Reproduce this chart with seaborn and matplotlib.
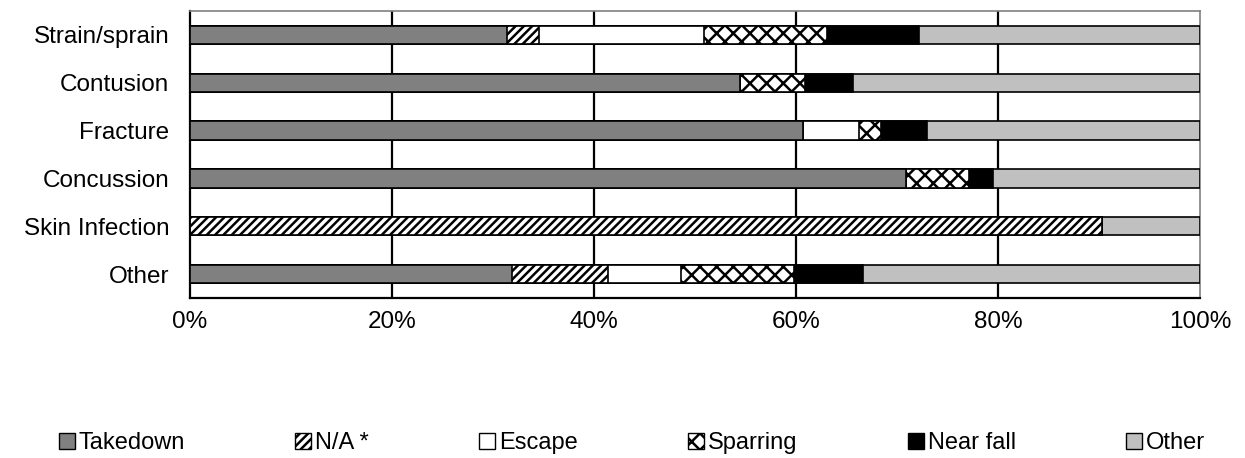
import matplotlib
matplotlib.use("Agg")
import matplotlib.pyplot as plt
from matplotlib.patches import Patch
import numpy as np
import pandas as pd
import seaborn as sns

# injury types, top to bottom
injuries = ["Strain/sprain", "Contusion", "Fracture", "Concussion", "Skin Infection", "Other"]

# share of each injury by activity (percent)
takedown = [31.4, 54.5, 60.7, 70.9, 0.0, 31.9]
na_star = [3.2, 0.0, 0.0, 0.0, 90.3, 9.5]
escape = [16.3, 0.0, 5.5, 0.0, 0.0, 7.2]
sparring = [12.2, 6.4, 2.2, 6.2, 0.0, 11.2]
near_fall = [9.1, 4.7, 4.6, 2.4, 0.0, 6.8]
other = [27.8, 34.4, 27.0, 20.5, 9.7, 33.4]

series = ["Takedown", "N/A *", "Escape", "Sparring", "Near fall", "Other"]
values = [takedown, na_star, escape, sparring, near_fall, other]
colors = ["#808080", "white", "white", "white", "black", "#c0c0c0"]
hatches = [None, "////", None, "xx", None, None]


def main():
    sns.set_style("white")
    plt.rcParams["font.family"] = ["Liberation Sans", "DejaVu Sans"]
    plt.rcParams["text.color"] = "black"
    plt.rcParams["xtick.labelcolor"] = "black"
    plt.rcParams["ytick.labelcolor"] = "black"
    plt.rcParams["hatch.linewidth"] = 1.8
    plt.rcParams["hatch.color"] = "black"

    fig = plt.figure(figsize=(12.45, 4.58), dpi=100)
    ax = fig.add_axes([190 / 1245, 1 - 298 / 458, 1010 / 1245, 287 / 458])

    # cumulative totals, drawn from the longest down so each segment shows
    cum = np.cumsum(np.array(values), axis=0)
    for i in range(len(series) - 1, -1, -1):
        df = pd.DataFrame({"injury": injuries, "pct": cum[i]})
        sns.barplot(
            data=df, y="injury", x="pct", orient="h", ax=ax,
            color=colors[i], saturation=1, width=0.38,
            edgecolor="black", linewidth=1.2, hatch=hatches[i],
            errorbar=None, zorder=3,
        )

    ax.set_xlim(0, 100)
    ax.set_ylim(5.5, -0.5)
    ax.set_xticks([0, 20, 40, 60, 80, 100])
    ax.set_xticklabels(["0%", "20%", "40%", "60%", "80%", "100%"], fontsize=17.5)
    ax.set_ylabel("")
    ax.set_xlabel("")
    ax.tick_params(axis="x", length=10, width=1.5, direction="inout", pad=4,
                   color="black", labelcolor="black")
    ax.tick_params(axis="y", which="major", length=0, pad=15, labelsize=17.5,
                   labelcolor="black")
    ax.set_yticks(np.arange(-0.5, 6.0, 1.0), minor=True)
    ax.tick_params(axis="y", which="minor", length=7, width=1.5, direction="out", color="black")

    for v in [20, 40, 60, 80]:
        ax.axvline(v, color="black", linewidth=1.6, zorder=1)

    for side in ["left", "bottom"]:
        ax.spines[side].set_color("black")
        ax.spines[side].set_linewidth(1.6)
    for side in ["top", "right"]:
        ax.spines[side].set_visible(True)
        ax.spines[side].set_color("#808080")
        ax.spines[side].set_linewidth(1.2)

    handles = [
        Patch(facecolor=c, edgecolor="black", hatch=h, linewidth=1.0)
        for c, h in zip(colors, hatches)
    ]
    fig.legend(
        handles, series, loc="center", ncol=6,
        bbox_to_anchor=(632 / 1245, 1 - 443 / 458),
        frameon=False, fontsize=17, handlelength=0.68, handleheight=0.68,
        handletextpad=0.17, columnspacing=4.66, borderaxespad=0, borderpad=0,
        labelcolor="black",
    )

    fig.savefig("out.png", dpi=100)


if __name__ == "__main__":
    main()
